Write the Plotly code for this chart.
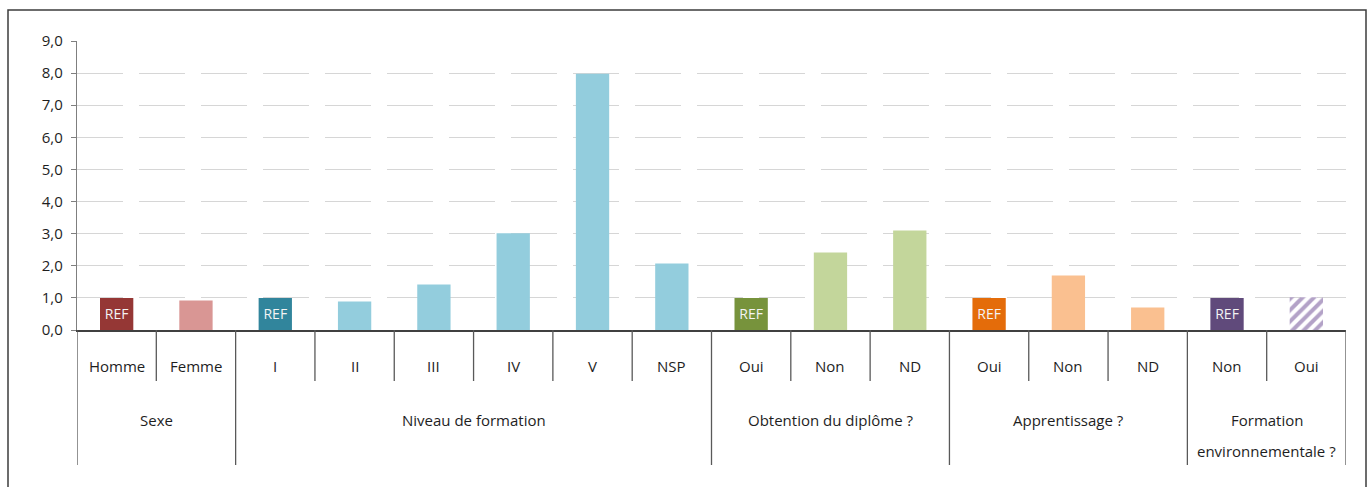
import plotly.graph_objects as go

# Categories (one bar each), grouped under higher-level headings
categories = ["Homme", "Femme",
              "I", "II", "III", "IV", "V", "NSP",
              "Oui", "Non", "ND",
              "Oui", "Non", "ND",
              "Non", "Oui"]
groups = ["Sexe", "Niveau de formation", "Obtention du diplôme ?",
          "Apprentissage ?", "Formation\nenvironnementale ?"]
group_sizes = [2, 6, 3, 3, 2]

# Odds ratios (reference category = 1.0)
values = [1.0, 0.92,
          1.0, 0.89, 1.42, 3.01, 7.98, 2.07,
          1.0, 2.41, 3.10,
          1.0, 1.70, 0.70,
          1.0, 1.02]
is_ref = [True, False,
          True, False, False, False, False, False,
          True, False, False,
          True, False, False,
          True, False]
bar_colors = ["#953735", "#D99694",
              "#31859C", "#93CDDD", "#93CDDD", "#93CDDD", "#93CDDD", "#93CDDD",
              "#77933C", "#C3D69B", "#C3D69B",
              "#E46C0A", "#FAC090", "#FAC090",
              "#604A7B", "#B3A2C7"]
# Non-significant result drawn with a striped fill
hatched = [False] * 15 + [True]

y_ticks = [0, 1, 2, 3, 4, 5, 6, 7, 8, 9]

FONT = "Open Sans, Liberation Sans, Arial, sans-serif"
TEXT = "#1e1e1e"

# Plot-area box in page pixels, used to place decorations around the axes
PL, PR, PT, PB = 77, 1346, 41, 330


def px(p):
    return (p - PL) / (PR - PL)


def py(p):
    return (PB - p) / (PB - PT)


xs = list(range(len(categories)))
solid = [i for i in xs if not hatched[i]]
striped = [i for i in xs if hatched[i]]

fig = go.Figure()
fig.add_trace(go.Bar(
    x=solid,
    y=[values[i] for i in solid],
    width=0.42,
    marker=dict(color=[bar_colors[i] for i in solid], line=dict(width=0)),
    text=["REF" if is_ref[i] else "" for i in solid],
    textposition="inside",
    insidetextanchor="middle",
    constraintext="none",
    textfont=dict(family=FONT, size=14, color="#f4f4f4"),
    hoverinfo="skip",
    showlegend=False,
))
fig.add_trace(go.Bar(
    x=striped,
    y=[values[i] for i in striped],
    width=0.42,
    marker=dict(
        color=[bar_colors[i] for i in striped],
        line=dict(width=0),
        pattern=dict(shape="/", bgcolor="white", fillmode="replace",
                     size=8, solidity=0.5),
    ),
    hoverinfo="skip",
    showlegend=False,
))

shapes = []
annotations = []

# Outer frame of the chart
shapes.append(dict(type="rect", xref="paper", yref="paper",
                   x0=px(8), x1=px(1366), y0=py(10), y1=py(520),
                   line=dict(color="#3c3c3c", width=1.5), layer="above"))

# Category and group dividers below the axis
group_bounds = set()
acc = 0
for n in group_sizes:
    group_bounds.add(acc)
    acc += n
group_bounds.add(acc)
for b in range(len(categories) + 1):
    bottom = 465 if b in group_bounds else 381
    shapes.append(dict(type="line", xref="x", yref="paper",
                       x0=b - 0.5, x1=b - 0.5, y0=0, y1=py(bottom),
                       line=dict(color="#595959", width=1.3), layer="above"))

# Category labels
for i, c in enumerate(categories):
    annotations.append(dict(x=i, y=py(366), xref="x", yref="paper",
                            text=c, showarrow=False, yanchor="middle",
                            font=dict(family=FONT, size=15, color=TEXT)))

# Group labels
start = 0
for g, n in zip(groups, group_sizes):
    center = start + (n - 1) / 2
    for k, line in enumerate(g.split("\n")):
        annotations.append(dict(x=center, y=py(420 + 31 * k), xref="x", yref="paper",
                                text=line, showarrow=False, yanchor="middle",
                                font=dict(family=FONT, size=15, color=TEXT)))
    start += n

fig.update_layout(
    width=1371,
    height=487,
    margin=dict(l=PL, r=1371 - PR, t=PT, b=487 - PB),
    paper_bgcolor="white",
    plot_bgcolor="white",
    separators=", ",
    font=dict(family=FONT, size=15, color=TEXT),
    shapes=shapes,
    annotations=annotations,
    barmode="overlay",
    xaxis=dict(
        range=[-0.5, len(categories) - 0.5],
        showticklabels=False,
        showgrid=False,
        zeroline=False,
        showline=True,
        linecolor="#404040",
        linewidth=1.5,
        ticks="",
        fixedrange=True,
    ),
    yaxis=dict(
        range=[0, 9],
        tickvals=y_ticks,
        tickformat=".1f",
        showgrid=True,
        gridcolor="#d6d6d6",
        gridwidth=1.3,
        griddash="46px,16px",
        zeroline=False,
        showline=True,
        linecolor="#7f7f7f",
        linewidth=1.3,
        ticks="outside",
        ticklen=5,
        tickcolor="#7f7f7f",
        tickwidth=1.3,
        ticklabelstandoff=5,
        tickfont=dict(family=FONT, size=15, color=TEXT),
        fixedrange=True,
    ),
)

fig.write_html("out.html")
